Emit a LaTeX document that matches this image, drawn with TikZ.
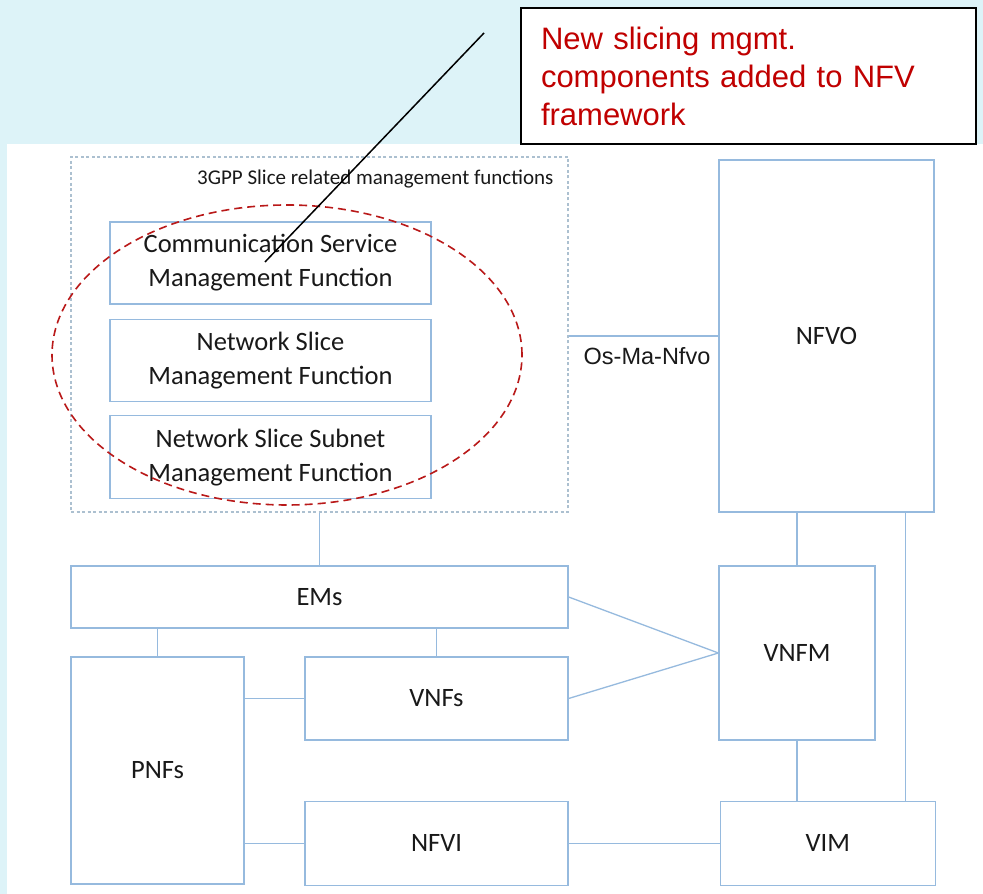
\documentclass[tikz,border=0pt]{standalone}
\usepackage{fontspec}
\setmainfont{Carlito}
\newfontfamily\arialfont{Liberation Sans}
\usetikzlibrary{positioning}

\definecolor{bgcyan}{RGB}{221,243,248}
\definecolor{boxblue}{RGB}{150,186,222}
\definecolor{dashgray}{RGB}{172,192,208}
\definecolor{notered}{RGB}{192,0,0}
\definecolor{ringred}{RGB}{185,25,25}
\definecolor{labelgray}{RGB}{25,25,25}

\begin{document}
\begin{tikzpicture}[
                        x=1pt,
                        y=1pt,
                        semithick,
                        node distance=14pt,
                        box/.style={draw=boxblue,line width=1.3pt,fill=white,text=labelgray,
                                    align=center,inner sep=0pt,font=\fontsize{26.5}{34}\selectfont},
                        link/.style={draw=boxblue,line width=1.3pt}
                    ]
                    \useasboundingbox (0,0) rectangle (983,894);
                    \fill[bgcyan] (0,0) rectangle (983,894);
                    \fill[white] (7,0) rectangle (983,750);

                    % 3GPP group
                    \node[draw=dashgray,dash pattern=on 3pt off 2.5pt,line width=1.4pt,
                          minimum width=497pt,minimum height=355pt] (grp) at (319.5,559.5) {};
                    \node[anchor=base east,text=labelgray,font=\fontsize{21}{25}\selectfont]
                          (grplbl) at (557,709) {3GPP Slice related management functions};

                    \node[box,minimum width=321pt,minimum height=82pt] (CSMF) at (270.5,631)
                          {Communication Service\\Management Function};
                    \node[box,minimum width=321pt,minimum height=82pt] (NSMF) [below=14pt of CSMF]
                          {Network Slice\\Management Function};
                    \node[box,minimum width=321pt,minimum height=83pt] (NSSMF) [below=13pt of NSMF]
                          {Network Slice Subnet\\Management Function};

                    % NFV side
                    \node[box,minimum width=215pt,minimum height=352pt] (NFVO) at (826.5,558) {NFVO};
                    \node[box,minimum width=156pt,minimum height=174pt] (VNFM) at (797,241) {VNFM};

                    \node[box,minimum width=497pt,minimum height=62pt]  (EMs)  at (319.5,297) {EMs};
                    \node[box,minimum width=173pt,minimum height=227pt] (PNFs) at (157.5,123.5) {PNFs};
                    \node[box,minimum width=263pt,minimum height=83pt]  (VNFs) at (436.5,195.5) {VNFs};
                    \node[box,minimum width=263pt,minimum height=84pt]  (NFVI) [below=60pt of VNFs] {NFVI};
                    \node[box,minimum width=215pt,minimum height=84pt]  (VIM)  [right=151pt of NFVI] {VIM};

                    % reference points
                    \path[link]
                    (grp.south)             edge (EMs.north)
                    (NFVO.west -| grp.east) edge (NFVO.west)
                    (EMs.south -| PNFs)     edge (PNFs.north)
                    (EMs.south -| VNFs)     edge (VNFs.north)
                    (PNFs.east |- VNFs)     edge (VNFs.west)
                    (PNFs.east |- NFVI)     edge (NFVI.west)
                    (NFVI.east)             edge (VIM.west)
                    (EMs.east)              edge (VNFM.west)
                    (VNFs.east)             edge (VNFM.west)
                    (NFVO.south -| VNFM)    edge (VNFM.north)
                    (VNFM.south)            edge (VNFM.south |- VIM.north)
                    ([xshift=-29pt]NFVO.south east) edge ([xshift=-29pt]NFVO.south east |- VIM.north)
                    ;
                    \node[anchor=base,text=labelgray,font=\arialfont\fontsize{23.5}{28}\selectfont]
                          (oslbl) at (647,529) {Os-Ma-Nfvo};

                    % highlight and note
                    \draw[ringred,line width=1.6pt,dash pattern=on 8pt off 5pt]
                          (287,539) ellipse [x radius=235pt,y radius=150pt];
                    \node[draw=black,line width=1.5pt,fill=white,minimum width=455pt,minimum height=136pt,
                          text width=415pt,align=left,text=notered,font=\arialfont\fontsize{31}{38}\selectfont]
                          (note) at (748.5,818) {New slicing mgmt.\\components added to NFV\\framework};
                    \coordinate (tail) at (484,861);
                    \coordinate (tip)  at (265,632);
                    \draw[black,line width=1.5pt] (tail) -- (tip);
                \end{tikzpicture}
\end{document}
